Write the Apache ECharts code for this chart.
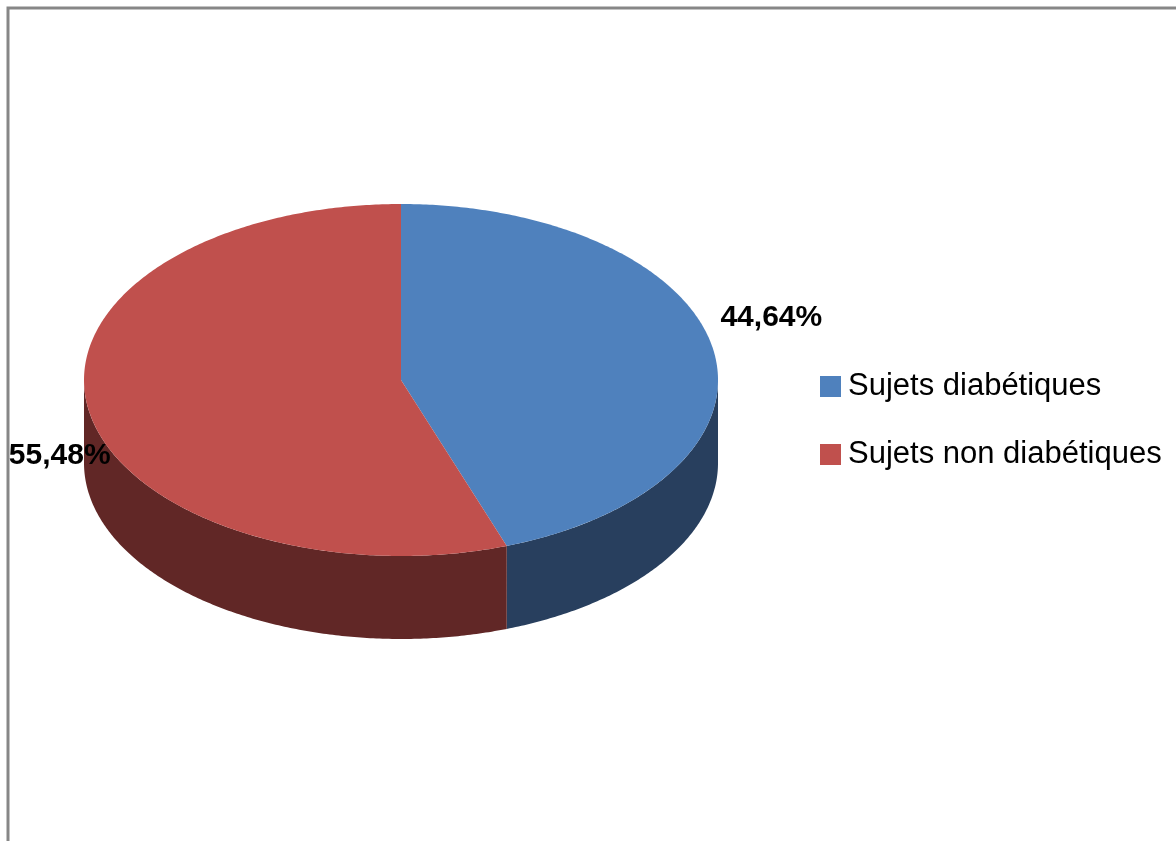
<!DOCTYPE html>
<html>
<head>
<meta charset="utf-8">
<script src="https://cdn.jsdelivr.net/npm/echarts@6/dist/echarts.min.js"></script>
<style>html,body{margin:0;padding:0;background:#fff;}#c{width:1176px;height:841px;}</style>
</head>
<body>
<div id="c"></div>
<script>
const categories = ['Sujets diabétiques', 'Sujets non diabétiques'];
const values = [44.64, 55.48];
const valueLabels = ['44,64%', '55,48%'];

const topColors = ['#4F81BD', '#C0504D'];
const sideColors = ['#283F5E', '#612726'];
const labelStyle = [
  {dx: 7, dy: -32, align: 'left'},
  {dx: 22, dy: 46, align: 'right'}
];

const geo = {cx: 401, cy: 380, rx: 317, ry: 176, depth: 83};

const total = values.reduce((a, b) => a + b, 0);
const starts = [], ends = [];
let acc = -Math.PI / 2;
values.forEach(v => { starts.push(acc); acc += v / total * Math.PI * 2; ends.push(acc); });

function arc(a1, a2, yOff) {
  const pts = [];
  const n = Math.max(2, Math.ceil(Math.abs(a2 - a1) / 0.01));
  for (let k = 0; k <= n; k++) {
    const a = a1 + (a2 - a1) * k / n;
    pts.push([geo.cx + geo.rx * Math.cos(a), geo.cy + yOff + geo.ry * Math.sin(a)]);
  }
  return pts;
}

function makeSeries(i) {
  return {
    type: 'custom',
    name: categories[i],
    coordinateSystem: 'none',
    itemStyle: {color: topColors[i]},
    data: [[values[i]]],
    renderItem: function (params, api) {
      const a1 = starts[i], a2 = ends[i];
      const children = [];
      const s = Math.max(a1, 0), e = Math.min(a2, Math.PI);
      if (e > s) {
        const pts = arc(s, e, 0).concat(arc(e, s, geo.depth));
        children.push({type: 'polygon', shape: {points: pts}, style: {fill: sideColors[i]}});
      }
      const topPts = [[geo.cx, geo.cy]].concat(arc(a1, a2, 0));
      children.push({type: 'polygon', shape: {points: topPts}, style: {fill: topColors[i]}});
      const mid = (a1 + a2) / 2;
      const px = geo.cx + geo.rx * Math.cos(mid) + labelStyle[i].dx;
      const py = geo.cy + geo.ry * Math.sin(mid) + labelStyle[i].dy;
      children.push({
        type: 'text', z2: 10,
        style: {
          x: px, y: py, text: valueLabels[i], fill: '#000',
          font: 'bold 30px "Liberation Sans"',
          align: labelStyle[i].align, verticalAlign: 'middle'
        }
      });
      return {type: 'group', children: children};
    }
  };
}

const chart = echarts.init(document.getElementById('c'), null, {renderer: 'canvas'});
chart.setOption({
  animation: false,
  backgroundColor: '#fff',
  graphic: [{
    type: 'rect', z: -10,
    shape: {x: 8, y: 8, width: 1400, height: 1100},
    style: {fill: '#fff', stroke: '#878787', lineWidth: 3}
  }],
  legend: {
    orient: 'vertical',
    left: 820, top: 371,
    padding: 0,
    icon: 'rect',
    itemWidth: 21, itemHeight: 21, itemGap: 37,
    selectedMode: false,
    data: categories,
    textStyle: {fontFamily: 'Liberation Sans', fontSize: 31, color: '#000', lineHeight: 31, padding: [0, 0, 0, 2]}
  },
  series: [makeSeries(0), makeSeries(1)]
});
</script>
</body>
</html>
